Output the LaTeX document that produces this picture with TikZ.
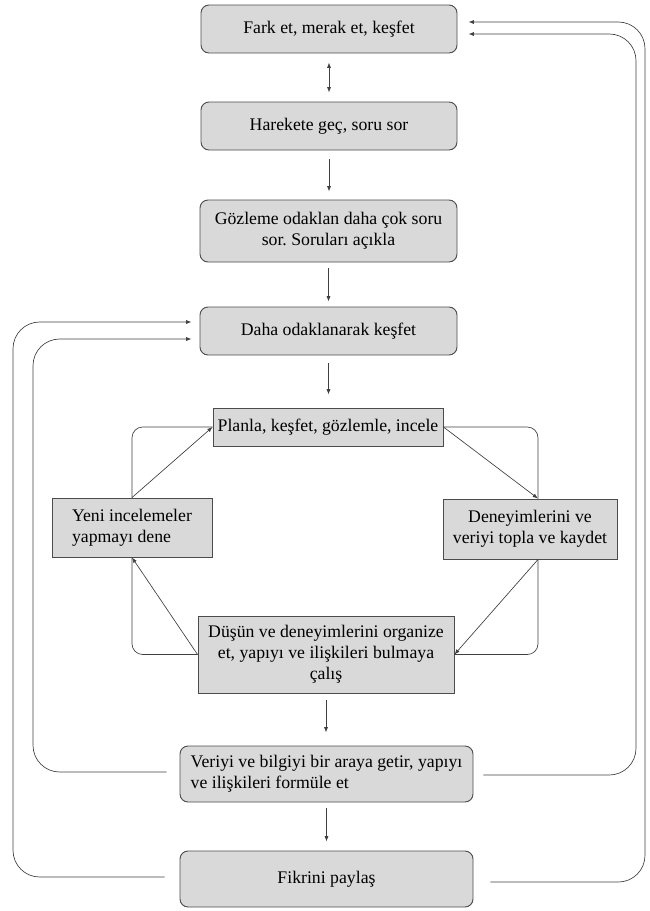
\documentclass[tikz,border=0pt]{standalone}
\usepackage{fontspec}
\setmainfont{Liberation Serif}
\usetikzlibrary{arrows.meta,calc}
\frenchspacing

\tikzset{
  yuvarlak/.style={draw=black!70, fill=black!15, rounded corners=6pt, line width=0.7pt, inner sep=2pt, text=black, font=\fontsize{13.3}{15.75}\selectfont},
  kutu/.style={draw=black!70, fill=black!15, line width=0.7pt, inner sep=2pt, text=black, font=\fontsize{13.3}{15.75}\selectfont},
  ok/.style={draw=black!75, line width=0.5pt, -{Latex[length=4pt,width=3pt]}},
  ikiok/.style={draw=black!75, line width=0.5pt, {Latex[length=4pt,width=3pt]}-{Latex[length=4pt,width=3pt]}},
  cizgi/.style={draw=black!75, line width=0.5pt},
}

\begin{document}
\begin{tikzpicture}[x=0.75pt,y=0.75pt,yscale=-1,xscale=1]
\useasboundingbox (0,0) rectangle (650,911);

% Rounded Rect
\node[yuvarlak, minimum width=192pt, minimum height=36pt] (fark) at (329,29) {Fark et, merak et, keşfet};
% Rounded Rect
\node[yuvarlak, minimum width=192pt, minimum height=36pt] (hareket) at (329,126) {Harekete geç, soru sor};
% Rounded Rect
\node[yuvarlak, minimum width=192.75pt, minimum height=46.5pt, align=center] (gozlem) at (328.5,231) {Gözleme odaklan daha çok soru\\ sor. Soruları açıkla};
% Rounded Rect
\node[yuvarlak, minimum width=192.75pt, minimum height=36pt] (odak) at (328.5,331) {Daha odaklanarak keşfet};
% Rect
\node[kutu, minimum width=172.5pt, minimum height=28.5pt] (planla) at (328,427) {Planla, keşfet, gözlemle, incele};
% Rect
\node[kutu, minimum width=120pt, minimum height=44.25pt, align=left] (yeni) at (132,527.5) {Yeni incelemeler\\ yapmayı dene};
% Rect
\node[kutu, minimum width=130.5pt, minimum height=45pt, align=center] (deneyim) at (530,529) {Deneyimlerini ve\\ veriyi topla ve kaydet};
% Rect
\node[kutu, minimum width=192pt, minimum height=57.75pt, align=center] (dusun) at (326,654.5) {Düşün ve deneyimlerini organize\\ et, yapıyı ve ilişkileri bulmaya\\ çalış};
% Rounded Rect
\node[yuvarlak, minimum width=219.75pt, minimum height=42pt, align=left] (veri) at (326.5,774) {Veriyi ve bilgiyi bir araya getir, yapıyı\\ ve ilişkileri formüle et};
% Rounded Rect
\node[yuvarlak, minimum width=219.75pt, minimum height=42pt] (paylas) at (326.5,879) {Fikrini paylaş};

% Coordinates
\coordinate (farkUst) at ($(fark.east)+(11,-7)$);
\coordinate (farkAlt) at ($(fark.east)+(11,5)$);
\coordinate (odakUst) at ($(odak.west)+(-8,-9)$);
\coordinate (odakAlt) at ($(odak.west)+(-8,8)$);
\coordinate (sagDis) at (645,0);
\coordinate (sagIc) at (636,0);
\coordinate (solDis) at (13,0);
\coordinate (solIc) at (33,0);
\coordinate (denUst) at ($(deneyim.north)+(8,0)$);
\coordinate (denAlt) at ($(deneyim.south)+(8,0)$);

%Straight Lines
\draw[ikiok, shorten <=6.75pt, shorten >=6.75pt] (fark) -- (hareket);
\draw[ok, shorten <=6.75pt, shorten >=6pt] (hareket.south) -- (hareket.south |- gozlem.north);
\draw[ok, shorten <=4.5pt, shorten >=3.75pt] (gozlem.south) -- (odak.north);
\draw[ok, shorten <=6pt, shorten >=9.75pt] (odak.south) -- (odak.south |- planla.north);
\draw[ok, shorten <=5.25pt, shorten >=9.75pt] (dusun.south) -- (dusun.south |- veri.north);
\draw[ok, shorten <=4.5pt, shorten >=6.75pt] (veri.south) -- (paylas.north);

%Cycle
\draw[ok] (yeni.north) -- (planla.west);
\draw[cizgi, rounded corners=8pt] (yeni.north) |- (planla.west);
\draw[ok] (planla.east) -- (denUst);
\draw[cizgi, rounded corners=8pt] (planla.east) -| (denUst);
\draw[ok] (denAlt) -- (dusun.east);
\draw[cizgi, rounded corners=8pt] (denAlt) |- (dusun.east);
\draw[ok] (dusun.west) -- (yeni.south);
\draw[cizgi, rounded corners=8pt] (dusun.west) -| (yeni.south);

%Curve Lines
\draw[ok, rounded corners=20pt] ($(paylas.east)+(17,3)$) -| (sagDis |- farkUst) -- (farkUst);
\draw[ok, rounded corners=20pt] ($(veri.east)+(10,1)$) -| (sagIc |- farkAlt) -- (farkAlt);
\draw[ok, rounded corners=20pt] ($(paylas.west)+(-15,-2)$) -| (solDis |- odakUst) -- (odakUst);
\draw[ok, rounded corners=20pt] ($(veri.west)+(-13,-2)$) -| (solIc |- odakAlt) -- (odakAlt);
\end{tikzpicture}
\end{document}
